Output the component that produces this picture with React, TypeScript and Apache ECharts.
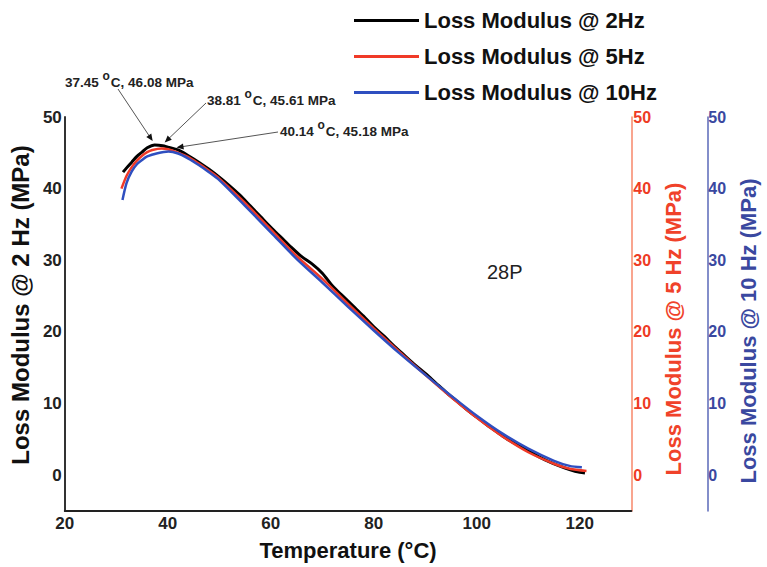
import React, { useEffect, useRef } from 'react';
import * as echarts from 'echarts';

// Loss modulus @ 2 Hz (black)
const temps2 = [31.3, 32, 33, 34, 35, 36, 37.45, 39, 40, 42, 44, 46, 48, 50, 52, 54, 56, 58, 60, 62, 64, 66, 68, 70, 72, 74, 76, 78, 80, 82, 84, 86, 88, 90, 92, 94, 96, 98, 100, 102, 104, 106, 108, 110, 112, 114, 116, 118, 120, 121];
const loss2 = [42.3, 42.9, 43.7, 44.5, 45.1, 45.7, 46.08, 46.0, 45.8, 45.4, 44.6, 43.7, 42.7, 41.6, 40.4, 39.1, 37.6, 36.1, 34.6, 33.2, 31.8, 30.5, 29.5, 28.2, 26.4, 25.0, 23.6, 22.2, 20.7, 19.4, 18.0, 16.7, 15.4, 14.2, 12.9, 11.6, 10.4, 9.2, 8.1, 7.0, 6.0, 5.0, 4.2, 3.4, 2.6, 1.9, 1.3, 0.8, 0.4, 0.3];

// Loss modulus @ 5 Hz (red)
const temps5 = [31.0, 32, 33, 34, 35, 36, 37, 38.81, 40, 42, 44, 46, 48, 50, 55, 60, 65, 70, 75, 80, 85, 90, 95, 100, 105, 110, 115, 118, 121.3];
const loss5 = [40.0, 41.8, 43.0, 43.9, 44.6, 45.1, 45.4, 45.61, 45.5, 45.0, 44.4, 43.5, 42.5, 41.4, 38.0, 34.3, 30.6, 27.4, 23.9, 20.5, 17.2, 14.0, 10.9, 8.0, 5.4, 3.2, 1.6, 0.9, 0.6];

// Loss modulus @ 10 Hz (blue)
const temps10 = [31.2, 32, 33, 34, 35, 36, 38, 40.14, 42, 44, 46, 48, 50, 55, 60, 65, 70, 75, 80, 85, 90, 95, 100, 105, 110, 115, 118, 120.4];
const loss10 = [38.4, 40.8, 42.4, 43.4, 44.0, 44.5, 44.95, 45.18, 44.9, 44.2, 43.3, 42.3, 41.2, 37.6, 33.9, 30.2, 26.9, 23.5, 20.2, 17.0, 14.0, 11.1, 8.3, 5.8, 3.7, 2.0, 1.3, 1.1];

// Peak annotations
const peakTemps = [37.45, 38.81, 40.14];
const peakValues = [46.08, 45.61, 45.18];

const seriesNames = ['Loss Modulus @ 2Hz', 'Loss Modulus @ 5Hz', 'Loss Modulus @ 10Hz'];
const axisNames = ['Loss Modulus @ 2 Hz (MPa)', 'Loss Modulus @ 5 Hz (MPa)', 'Loss Modulus @ 10 Hz (MPa)'];
const xName = 'Temperature (°C)';
const sampleLabel = '28P';

const FONT = '"Liberation Sans", Arial, Helvetica, sans-serif';
const BLACK = '#000000';
const RED = '#f03a28';
const BLUE = '#2f4fc0';

// layout of annotation texts (pixels) and arrow tip offsets from peak pixel
const annLayout = [
  { tx: 65, ty: 82, sx: 118, sy: 89, dx: -2, dy: -4 },
  { tx: 207, ty: 100, sx: 206, sy: 103, dx: 3, dy: -6 },
  { tx: 280, ty: 131, sx: 278, sy: 132, dx: 8, dy: -4 },
];

const zip = (xs: number[], ys: number[]) => xs.map((x, i) => [x, ys[i]]);

const yAxisBase = (color: string, lineColor: string, lineWidth: number) => ({
  type: 'value',
  min: -5,
  max: 50,
  interval: 5,
  splitLine: { show: false },
  axisTick: { show: false },
  axisLine: { show: true, onZero: false, lineStyle: { color: lineColor, width: lineWidth } },
  axisLabel: {
    color,
    fontFamily: FONT,
    fontWeight: 'bold',
    fontSize: 16,
    formatter: (v: number) => (v % 10 === 0 ? String(v) : ''),
  },
  nameLocation: 'middle',
  nameRotate: 90,
});

export default function App() {
  const ref = useRef<HTMLDivElement>(null);
  useEffect(() => {
    document.body.style.margin = '0';
    const chart = echarts.init(ref.current!, null, { renderer: 'svg' });
    const option: any = {
      animation: false,
      backgroundColor: '#ffffff',
      grid: { left: 60, right: 123, top: 117, bottom: 56, containLabel: false },
      legend: {
        orient: 'vertical',
        left: 349,
        top: 2,
        icon: 'rect',
        itemWidth: 65,
        itemHeight: 3,
        itemGap: 9,
        textStyle: { fontFamily: FONT, fontWeight: 'bold', fontSize: 22, color: '#111', lineHeight: 27 },
        data: seriesNames,
      },
      xAxis: {
        type: 'value',
        min: 20,
        max: 130,
        interval: 20,
        splitLine: { show: false },
        axisTick: { show: false },
        axisLine: { show: true, onZero: false, lineStyle: { color: '#222', width: 2 } },
        axisLabel: {
          color: '#222', fontFamily: FONT, fontWeight: 'bold', fontSize: 17, margin: 4,
          formatter: (v: number) => (v % 20 === 0 && v <= 120 ? String(v) : ''),
        },
        name: xName,
        nameLocation: 'middle',
        nameGap: 28,
        nameTextStyle: { fontFamily: FONT, fontWeight: 'bold', fontSize: 22, color: '#111' },
      },
      yAxis: [
        {
          ...yAxisBase('#222', '#333', 2),
          position: 'left',
          axisLabel: { ...yAxisBase('#222', '#333', 2).axisLabel, fontSize: 17, margin: 3 },
          name: axisNames[0],
          nameGap: 26,
          nameTextStyle: { fontFamily: FONT, fontWeight: 'bold', fontSize: 24, color: '#111', padding: [0, 0, 0, 18] },
        },
        {
          ...yAxisBase('#ee3b24', '#f7876a', 1.5),
          position: 'right',
          axisLabel: { ...yAxisBase('#ee3b24', '#f7876a', 1.5).axisLabel, margin: 2 },
          name: axisNames[1],
          nameGap: 26,
          nameTextStyle: { fontFamily: FONT, fontWeight: 'bold', fontSize: 22, color: '#f0422a', padding: [0, 30, 0, 0] },
        },
        {
          ...yAxisBase('#3a48a0', '#5a68b8', 1.5),
          position: 'right',
          offset: 76,
          axisLabel: { ...yAxisBase('#3a48a0', '#5a68b8', 1.5).axisLabel, margin: 1 },
          name: axisNames[2],
          nameGap: 27,
          nameTextStyle: { fontFamily: FONT, fontWeight: 'bold', fontSize: 22, color: '#3a48a0', padding: [0, 34, 0, 0] },
        },
      ],
      series: [
        {
          name: seriesNames[0], type: 'line', yAxisIndex: 0, data: zip(temps2, loss2),
          showSymbol: false, smooth: 0.3, lineStyle: { color: BLACK, width: 3 }, itemStyle: { color: BLACK },
        },
        {
          name: seriesNames[1], type: 'line', yAxisIndex: 1, data: zip(temps5, loss5),
          showSymbol: false, smooth: 0.3, lineStyle: { color: RED, width: 2.5 }, itemStyle: { color: RED },
        },
        {
          name: seriesNames[2], type: 'line', yAxisIndex: 2, data: zip(temps10, loss10),
          showSymbol: false, smooth: 0.3, lineStyle: { color: BLUE, width: 2.5 }, itemStyle: { color: BLUE },
        },
      ],
    };
    chart.setOption(option);

    const graphics: any[] = [];
    peakTemps.forEach((t, i) => {
      const p = chart.convertToPixel({ xAxisIndex: 0, yAxisIndex: 0 }, [t, peakValues[i]]) as number[];
      const L = annLayout[i];
      const tipX = p[0] + L.dx;
      const tipY = p[1] + L.dy;
      const ux = tipX - L.sx;
      const uy = tipY - L.sy;
      const len = Math.sqrt(ux * ux + uy * uy);
      const ex = ux / len;
      const ey = uy / len;
      const nx = -ey;
      const ny = ex;
      graphics.push({
        type: 'line',
        shape: { x1: L.sx, y1: L.sy, x2: tipX - ex * 4, y2: tipY - ey * 4 },
        style: { stroke: '#555', lineWidth: 1 },
        z: 100,
      });
      graphics.push({
        type: 'polygon',
        shape: {
          points: [
            [tipX, tipY],
            [tipX - ex * 7 + nx * 3, tipY - ey * 7 + ny * 3],
            [tipX - ex * 7 - nx * 3, tipY - ey * 7 - ny * 3],
          ],
        },
        style: { fill: '#111' },
        z: 100,
      });
      const tStr = peakTemps[i].toFixed(2);
      const vStr = peakValues[i].toFixed(2);
      graphics.push({
        type: 'text',
        x: L.tx,
        y: L.ty,
        z: 100,
        style: {
          text: `{a|${tStr} }{o|o}{a|C, ${vStr} MPa}`,
          align: 'left',
          verticalAlign: 'middle',
          fill: '#222',
          rich: {
            a: { fontFamily: FONT, fontWeight: 'bold', fontSize: 13.5, fill: '#222' },
            o: { fontFamily: FONT, fontWeight: 'bold', fontSize: 12, fill: '#222', padding: [0, 1, 13, 0] },
          },
        },
      });
    });
    graphics.push({
      type: 'text',
      x: 487,
      y: 272,
      style: { text: sampleLabel, fontFamily: FONT, fontSize: 20, fill: '#222', align: 'left', verticalAlign: 'middle' },
    });
    chart.setOption({ graphic: graphics });
    return () => chart.dispose();
  }, []);
  return <div ref={ref} style={{ position: 'absolute', left: 0, top: 0, width: 767, height: 567 }} />;
}
